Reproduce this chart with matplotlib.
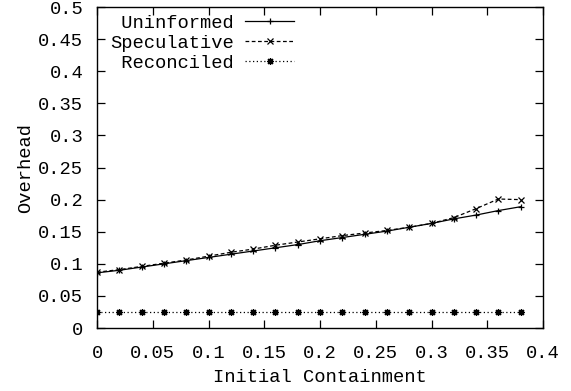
import numpy as np
import matplotlib
matplotlib.use('Agg')
import matplotlib.pyplot as plt
from matplotlib.ticker import FuncFormatter, MultipleLocator

# initial containment values (x axis)
containment = [0.00, 0.02, 0.04, 0.06, 0.08, 0.10, 0.12, 0.14, 0.16, 0.18,
               0.20, 0.22, 0.24, 0.26, 0.28, 0.30, 0.32, 0.34, 0.36, 0.38]

# overhead per strategy
uninformed = [0.086, 0.090, 0.095, 0.100, 0.105, 0.110, 0.115, 0.120, 0.125, 0.130,
              0.136, 0.141, 0.146, 0.151, 0.157, 0.163, 0.170, 0.176, 0.183, 0.189]
speculative = [0.087, 0.091, 0.096, 0.101, 0.106, 0.112, 0.118, 0.123, 0.129, 0.134,
               0.139, 0.144, 0.148, 0.152, 0.157, 0.163, 0.172, 0.186, 0.201, 0.200]
reconciled = [0.025] * 20

plt.rcParams['font.family'] = 'Liberation Mono'
plt.rcParams['font.size'] = 13.5

fig = plt.figure(figsize=(5.71, 3.91), dpi=100)
ax = fig.add_axes([0.170, 0.161, 0.781, 0.821])

ax.plot(containment, uninformed, color='black', linestyle='-', linewidth=0.9,
        marker='+', markersize=5, markeredgewidth=0.9, label=' Uninformed')
ax.plot(containment, speculative, color='black', linestyle=(0, (3, 2)), linewidth=0.9,
        marker='x', markersize=4.5, markeredgewidth=0.9, label='Speculative')
ax.plot(containment, reconciled, color='black', linestyle=(0, (1, 2)), linewidth=0.9,
        marker=(8, 2, 0), markersize=5, markeredgewidth=0.9, label=' Reconciled')

ax.set_xlim(0, 0.4)
ax.set_ylim(0, 0.5)
ax.xaxis.set_major_locator(MultipleLocator(0.05))
ax.yaxis.set_major_locator(MultipleLocator(0.05))
fmt = FuncFormatter(lambda v, p: '%g' % round(v, 3))
ax.xaxis.set_major_formatter(fmt)
ax.yaxis.set_major_formatter(fmt)
ax.tick_params(direction='in', length=6, width=0.9, top=True, right=True)
ax.tick_params(axis='x', pad=12)
ax.tick_params(axis='y', pad=10)

for sp in ax.spines.values():
    sp.set_linewidth(1.0)

ax.set_xlabel('Initial Containment', labelpad=5)
ax.set_ylabel('Overhead', labelpad=3)

ax.legend(loc='upper left', bbox_to_anchor=(0.021, 0.988), frameon=False,
          markerfirst=False, handlelength=2.6, handletextpad=0.6,
          labelspacing=0.15, borderaxespad=0.0, borderpad=0.2, fontsize=13.5)

fig.savefig('out.png', dpi=100)
